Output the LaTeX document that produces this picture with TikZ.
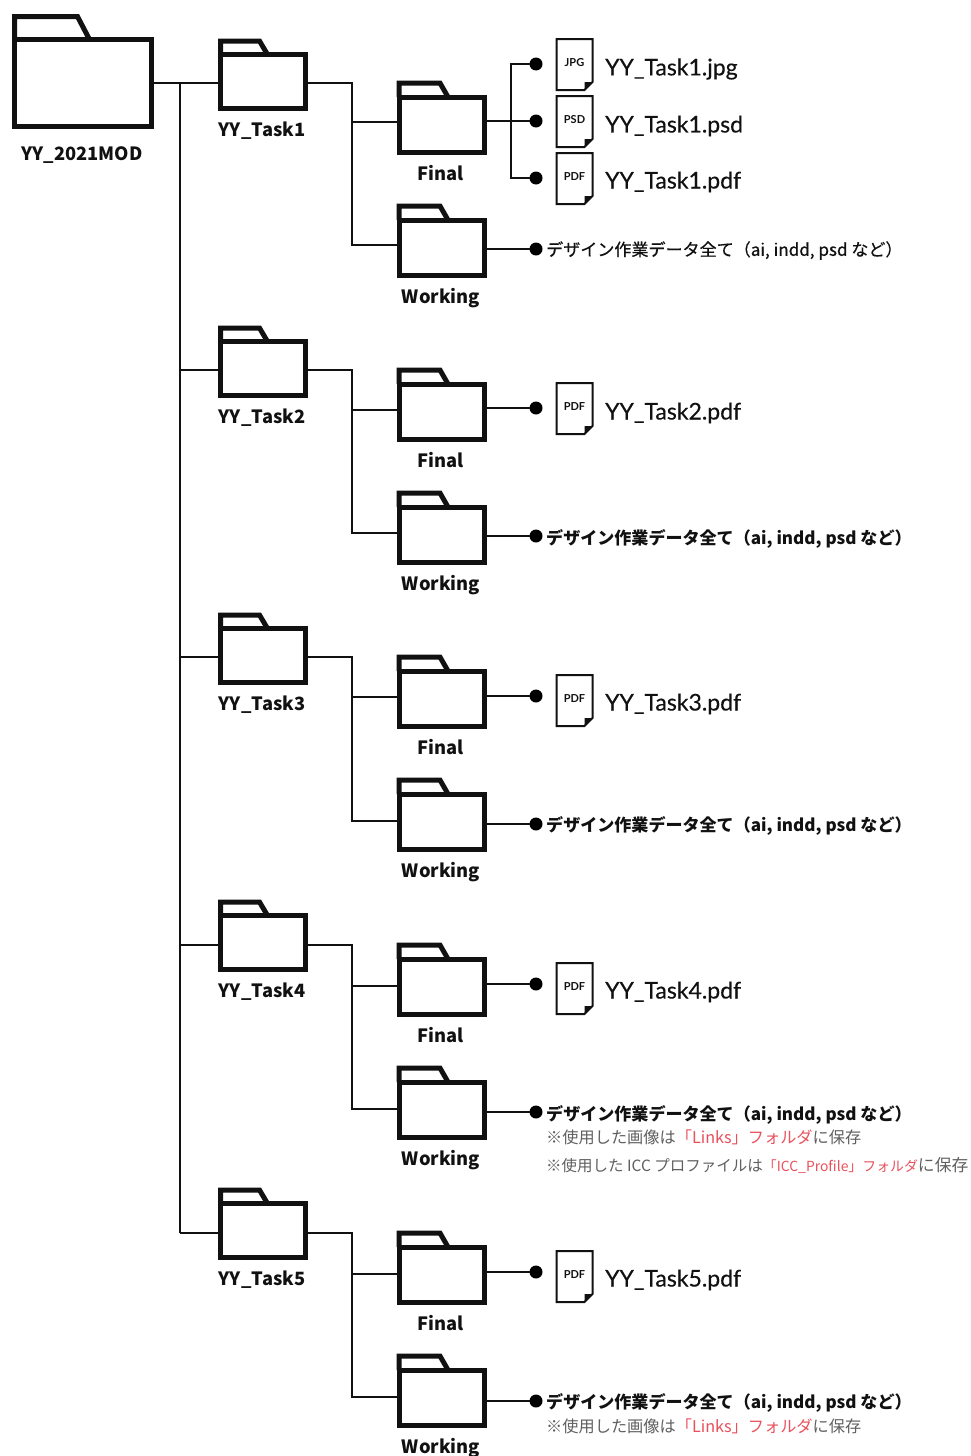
\documentclass[tikz,border=0pt]{standalone}
\usepackage{fontspec}
\setmainfont{Noto Sans CJK JP}
\newfontfamily\filefont[FakeBold=0.35]{Lato}
\newfontfamily\iconfont{Lato}
\newfontfamily\medfont[FakeBold=0.5]{Noto Sans CJK JP}
\definecolor{ink}{HTML}{111111}
\definecolor{notegray}{HTML}{5F5F5F}
\definecolor{notered}{HTML}{E8505B}
\tikzset{
  x=1pt,y=-1pt,
  foldbig/.style={draw=ink,line width=5pt,minimum width=137pt,minimum height=87pt,inner sep=0pt,outer sep=0pt},
  foldsmall/.style={draw=ink,line width=5pt,minimum width=85pt,minimum height=54pt,inner sep=0pt,outer sep=0pt},
  foldsub/.style={draw=ink,line width=5pt,minimum width=85pt,minimum height=55pt,inner sep=0pt,outer sep=0pt},
  foldtab/.style={draw=ink,line width=5pt,line join=miter},
  conn/.style={draw=ink,line width=1.5pt},
  conndark/.style={draw=ink,line width=2pt},
  dotnode/.style={circle,fill=black,minimum size=13pt,inner sep=0pt,outer sep=0pt},
  fname/.style={font=\fontsize{18.3}{19}\selectfont\bfseries,text=ink,inner sep=0pt},
  filelabel/.style={font=\filefont\fontsize{23}{23}\selectfont,text=ink,anchor=west,inner sep=0pt,yshift=-2pt},
  alldata/.style={font=\fontsize{17.05}{18}\selectfont\bfseries,text=ink,anchor=west,inner sep=0pt,yshift=-1.5pt},
  alllight/.style={font=\medfont\fontsize{17.05}{18}\selectfont,text=ink,anchor=west,inner sep=0pt,yshift=-1.5pt},
  note/.style={font=\fontsize{16.2}{17}\selectfont,text=notegray,anchor=west,inner sep=0pt},
  noteb/.style={font=\fontsize{15.5}{17}\selectfont,text=notegray,anchor=west,inner sep=0pt},
  docbox/.style={minimum width=36pt,minimum height=51pt,inner sep=0pt,outer sep=0pt,font=\iconfont\fontsize{11}{11}\selectfont\bfseries,text=ink},
  docline/.style={draw=ink,line width=2pt,line join=miter},
}
% name, x-left of body centre line, y-top of tab
\newcommand{\smallfolder}[3]{%
  \node[foldsmall] (#1) at (#2+42.5,#3+42.5) {};
  \draw[foldtab] (#1.north west) -- ++(0,-13.5) -- ++(39,0) -- ++(8,13.5);
}
\newcommand{\subfolder}[3]{%
  \node[foldsub] (#1) at (#2+42.5,#3+43.5) {};
  \draw[foldtab] (#1.north west) -- ++(0,-14) -- ++(41,0) -- ++(8,14);
}
% name, centre x, top y, label
\newcommand{\doc}[4]{%
  \node[docbox] (#1) at (#2,#3+25.5) {\raisebox{4pt}{#4}};
  \draw[docline] (#1.north west) -- (#1.north east) -- ([yshift=8pt]#1.south east) -- ([xshift=-8pt]#1.south east) -- (#1.south west) -- cycle;
  \fill[ink] ([yshift=8pt]#1.south east) -- ([xshift=-8pt,yshift=8pt]#1.south east) -- ([xshift=-8pt]#1.south east) -- cycle;
}
\newcommand{\worktext}{デザイン作業データ全て（ai, indd, psd など）}
% n, taskTop, branchY, finalTop, finalY, workTop, workY, workDotY
\newcommand{\group}[8]{%
  \smallfolder{t#1}{220.5}{#2}
  \node[fname] (tl#1) at (262,#2+92) {YY\_Task#1};
  \subfolder{f#1}{399}{#4}
  \node[fname] (fl#1) at (441,#4+92) {Final};
  \subfolder{w#1}{399}{#6}
  \node[fname] (wl#1) at (441,#6+94) {Working};
  \coordinate (b#1) at (180,#3);
  \coordinate (fy#1) at (352,#5);
  \coordinate (wy#1) at (352,#7);
  \draw[conn] (b#1) -- (b#1 -| t#1.west);
  \draw[conn] (b#1 -| t#1.east) -| (wy#1) -- (wy#1 -| w#1.west);
  \draw[conn] (fy#1) -- (fy#1 -| f#1.west);
  \node[dotnode] (wd#1) at (536,#8) {};
  \draw[conndark] (wd#1 -| w#1.east) -- (wd#1);
}
\begin{document}
\begin{tikzpicture}
\useasboundingbox (0,0) rectangle (971,1456);
% root
\node[foldbig] (r) at (83,83) {};
\draw[foldtab] (r.north west) -- ++(0,-23) -- ++(63,0) -- ++(12,23);
\node[fname] (rl) at (82,155) {YY\_2021MOD};
\group{1}{39}{83}{81}{122}{204}{245}{249}
\group{2}{326}{370}{368}{410}{491}{533}{536}
\group{3}{613}{657}{655}{697}{778}{821}{824}
\group{4}{900}{945}{943}{986}{1066}{1109}{1112}
\group{5}{1188}{1233}{1231}{1274}{1354}{1397}{1401}
% trunk
\draw[conn] (r.east |- b1) -- (b1) -- (b5);
% task 1 files
\node[dotnode] (d1a) at (536,64) {};
\node[dotnode] (d1b) at (536,121) {};
\node[dotnode] (d1c) at (536,178) {};
\coordinate (k1) at (511,121);
\draw[conndark] (d1b -| f1.east) -- (d1b);
\draw[conn] (d1a) -| (k1) |- (d1c);
\doc{doc1a}{574.5}{39}{JPG}
\doc{doc1b}{574.5}{96}{PSD}
\doc{doc1c}{574.5}{153}{PDF}
\node[filelabel] (l1a) at (605,67) {YY\_Task1.jpg};
\node[filelabel] (l1b) at (605,124) {YY\_Task1.psd};
\node[filelabel] (l1c) at (605,180) {YY\_Task1.pdf};
% single files
\node[dotnode] (d2) at (536,408) {};
\node[dotnode] (d3) at (536,696) {};
\node[dotnode] (d4) at (536,984) {};
\node[dotnode] (d5) at (536,1272) {};
\draw[conndark] (d2 -| f2.east) -- (d2);
\draw[conndark] (d3 -| f3.east) -- (d3);
\draw[conndark] (d4 -| f4.east) -- (d4);
\draw[conndark] (d5 -| f5.east) -- (d5);
\doc{doc2}{574.5}{383}{PDF}
\doc{doc3}{574.5}{675}{PDF}
\doc{doc4}{574.5}{963}{PDF}
\doc{doc5}{574.5}{1251}{PDF}
\node[filelabel] (l2) at (605,411) {YY\_Task2.pdf};
\node[filelabel] (l3) at (605,702) {YY\_Task3.pdf};
\node[filelabel] (l4) at (605,990) {YY\_Task4.pdf};
\node[filelabel] (l5) at (605,1278) {YY\_Task5.pdf};
% working texts
\node[alllight] (x1) at (546,249) {\worktext};
\node[alldata] (x2) at (546,537) {\worktext};
\node[alldata] (x3) at (546,824) {\worktext};
\node[alldata] (x4) at (546,1113) {\worktext};
\node[alldata] (x5) at (546,1401) {\worktext};
% notes
\node[note] (n4a) at (546,1137) {※使用した画像は\textcolor{notered}{「Links」フォルダ}に保存};
\node[noteb] (n4b) at (546,1165) {※使用した ICC プロファイルは{\fontsize{13.9}{17}\selectfont\textcolor{notered}{「ICC\_Profile」フォルダ}}{\fontsize{16.8}{17}\selectfont に保存}};
\node[note] (n5a) at (546,1426) {※使用した画像は\textcolor{notered}{「Links」フォルダ}に保存};
\end{tikzpicture}
\end{document}
